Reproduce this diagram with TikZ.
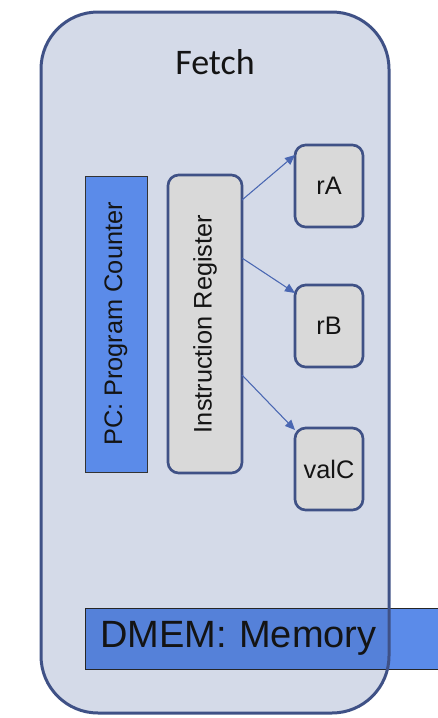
\documentclass[tikz,border=0pt]{standalone}
\usepackage{fontspec}
\setmainfont{Liberation Sans}
\newfontfamily\calibri{Carlito}
\usetikzlibrary{arrows.meta}
\definecolor{fetchfill}{HTML}{D4DAE8}
\definecolor{fetchline}{HTML}{3F5186}
\definecolor{bluebox}{HTML}{5B8BE9}
\definecolor{blueboxin}{HTML}{5581D9}
\definecolor{regfill}{HTML}{D9D9D9}
\definecolor{arrowcol}{HTML}{4A67B2}
\definecolor{txt}{HTML}{141414}
\tikzset{
  fetchbox/.style={rectangle, rounded corners=42.75pt, fill=fetchfill, draw=none, outer sep=0pt, inner sep=0pt},
  fetchborder/.style={draw=fetchline, line width=2.25pt, rounded corners=42.75pt},
  pcbox/.style={rectangle, fill=bluebox, draw=black!80, line width=0.6pt, outer sep=0pt, inner sep=0pt, text=txt, font=\fontsize{19}{19}\selectfont},
  regbox/.style={rectangle, rounded corners=8pt, fill=regfill, draw=fetchline, line width=2pt, outer sep=0pt, inner sep=0pt, text=txt, font=\fontsize{19}{19}\selectfont},
  conn/.style={draw=arrowcol, line width=0.8pt, -{Triangle[length=7.5pt,width=6.5pt]}},
}
\begin{document}
\begin{tikzpicture}[x=0.75pt,y=-0.75pt]
\useasboundingbox (0,0) rectangle (438,718);
\node[fetchbox, minimum width=261pt, minimum height=525.75pt] (fetch) at (215,362.5) {};
\node[font=\calibri\fontsize{27}{27}\selectfont, text=txt] (title) at (215,62) {Fetch};
\node[pcbox, minimum width=46.5pt, minimum height=222pt] (pc) at (116,324) {};
\node[rotate=90, text=txt, font=\fontsize{19}{19}\selectfont] (pctext) at (pc.center) {PC: Program Counter};
\node[regbox, minimum width=55.5pt, minimum height=223.5pt] (ir) at (205,324) {};
\node[rotate=90, text=txt, font=\fontsize{19}{19}\selectfont] (irtext) at (ir.center) {Instruction Register};
\node[regbox, minimum width=51pt, minimum height=61.5pt] (ra) at (329,186) {rA};
\node[regbox, minimum width=51pt, minimum height=61.5pt] (rb) at (329,326) {rB};
\node[regbox, minimum width=51pt, minimum height=61.5pt] (valc) at (329,469) {valC};
\draw[conn] ([yshift=-18.75pt]ir.north east) -- ([yshift=-7.5pt]ra.north west);
\draw[conn] ([yshift=-62.25pt]ir.north east) -- ([yshift=-6pt]rb.north west);
\draw[conn] ([yshift=-150pt]ir.north east) -- ([yshift=-1.5pt]valc.north west);
\node[rectangle, anchor=west, fill=bluebox, draw=black!85, line width=0.6pt, outer sep=0pt,
  minimum width=270pt, minimum height=45.75pt, text width=247.5pt, inner xsep=11.25pt, align=left,
  text=txt, font=\fontsize{28.5}{28.5}\selectfont,
  path picture={\clip[rounded corners=42.75pt] (fetch.north west) rectangle (fetch.south east);
    \fill[blueboxin] (path picture bounding box.south west) rectangle (path picture bounding box.north east);}
  ] (dmem) at (85,638.5) {DMEM: Memory};
\draw[fetchborder] (fetch.north west) rectangle (fetch.south east);
\end{tikzpicture}
\end{document}
